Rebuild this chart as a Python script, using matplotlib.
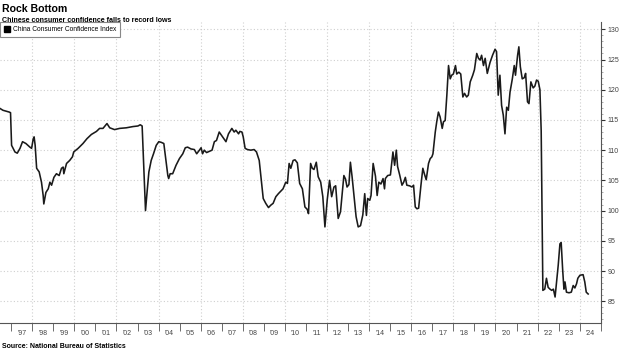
import matplotlib
matplotlib.use("Agg")
import matplotlib.pyplot as plt
from matplotlib.lines import Line2D
import numpy as np

# ---- data (decimal year, index value) ----
years = [
    1996.47, 1996.61, 1996.91, 1996.97, 1997.02, 1997.18, 1997.29, 1997.42, 1997.54, 1997.70,
    1997.89, 1997.97, 1998.05, 1998.09, 1998.14, 1998.21, 1998.33, 1998.44, 1998.52, 1998.55,
    1998.65, 1998.76, 1998.84, 1998.92, 1999.03, 1999.15, 1999.28, 1999.39, 1999.47, 1999.50,
    1999.63, 1999.78, 1999.91, 1999.97, 2000.18, 2000.41, 2000.60, 2000.81, 2001.05, 2001.20,
    2001.36, 2001.55, 2001.68, 2001.91, 2002.15, 2002.47, 2002.78, 2003.02, 2003.13, 2003.22,
    2003.29, 2003.38, 2003.44, 2003.54, 2003.65, 2003.76, 2003.89, 2004.01, 2004.12, 2004.25,
    2004.36, 2004.44, 2004.48, 2004.55, 2004.67, 2004.83, 2004.99, 2005.15, 2005.27, 2005.38,
    2005.54, 2005.70, 2005.81, 2005.94, 2006.02, 2006.09, 2006.17, 2006.28, 2006.41, 2006.54,
    2006.65, 2006.75, 2006.88, 2007.04, 2007.20, 2007.32, 2007.48, 2007.59, 2007.67, 2007.80,
    2007.86, 2007.96, 2008.02, 2008.11, 2008.22, 2008.38, 2008.54, 2008.65, 2008.78, 2008.86,
    2008.97, 2009.09, 2009.22, 2009.33, 2009.44, 2009.57, 2009.69, 2009.80, 2009.91, 2010.04,
    2010.12, 2010.20, 2010.28, 2010.39, 2010.48, 2010.59, 2010.70, 2010.83, 2010.95, 2011.06,
    2011.12, 2011.22, 2011.30, 2011.38, 2011.49, 2011.58, 2011.70, 2011.80, 2011.90, 2012.01,
    2012.12, 2012.22, 2012.33, 2012.41, 2012.53, 2012.64, 2012.80, 2012.88, 2012.95, 2013.04,
    2013.11, 2013.19, 2013.27, 2013.38, 2013.48, 2013.59, 2013.70, 2013.79, 2013.87, 2013.93,
    2014.03, 2014.09, 2014.19, 2014.30, 2014.38, 2014.46, 2014.56, 2014.66, 2014.73, 2014.77,
    2014.88, 2015.01, 2015.13, 2015.21, 2015.29, 2015.35, 2015.45, 2015.56, 2015.64, 2015.72,
    2015.79, 2015.92, 2016.03, 2016.11, 2016.19, 2016.27, 2016.35, 2016.46, 2016.55, 2016.63,
    2016.71, 2016.82, 2016.90, 2016.98, 2017.03, 2017.14, 2017.21, 2017.29, 2017.37, 2017.47,
    2017.53, 2017.61, 2017.69, 2017.77, 2017.85, 2017.92, 2018.00, 2018.10, 2018.16, 2018.26,
    2018.35, 2018.45, 2018.53, 2018.63, 2018.71, 2018.80, 2018.92, 2019.00, 2019.11, 2019.19,
    2019.27, 2019.34, 2019.43, 2019.51, 2019.61, 2019.74, 2019.86, 2019.98, 2020.05, 2020.13,
    2020.21, 2020.29, 2020.37, 2020.45, 2020.53, 2020.61, 2020.69, 2020.80, 2020.89, 2020.95,
    2021.05, 2021.11, 2021.18, 2021.27, 2021.37, 2021.43, 2021.52, 2021.59, 2021.68, 2021.79,
    2021.87, 2021.95, 2022.03, 2022.11, 2022.17, 2022.25, 2022.34, 2022.42, 2022.50, 2022.59,
    2022.67, 2022.75, 2022.83, 2022.90, 2022.98, 2023.06, 2023.12, 2023.19, 2023.25, 2023.30,
    2023.37, 2023.49, 2023.60, 2023.69, 2023.77, 2023.85, 2023.91, 2024.01, 2024.16, 2024.24,
    2024.31, 2024.40,
]
cci = [
    116.9, 116.6, 116.3, 116.2, 110.8, 109.7, 109.5, 110.3, 111.4, 111.1,
    110.5, 110.3, 111.9, 112.2, 110.8, 107.0, 106.4, 104.7, 102.5, 101.1,
    103.0, 103.6, 104.7, 104.2, 105.5, 106.1, 105.8, 107.0, 107.2, 106.1,
    107.8, 108.3, 108.9, 109.7, 110.3, 111.1, 111.9, 112.6, 113.1, 113.6,
    113.6, 114.4, 113.7, 113.4, 113.6, 113.7, 113.9, 114.0, 114.2, 114.0,
    108.0, 100.0, 102.5, 106.4, 108.3, 109.4, 110.8, 111.4, 111.3, 111.1,
    108.0, 105.8, 105.3, 106.1, 106.1, 107.5, 108.6, 109.4, 110.4, 110.5,
    110.2, 110.1, 109.4, 110.0, 110.4, 109.4, 110.0, 109.6, 109.8, 110.0,
    111.4, 111.6, 113.0, 112.2, 111.4, 112.7, 113.6, 113.0, 113.3, 112.7,
    113.1, 113.0, 112.2, 110.3, 110.1, 110.0, 110.1, 109.7, 108.3, 105.6,
    102.0, 101.2, 100.5, 100.9, 101.2, 102.3, 102.8, 103.2, 103.6, 104.7,
    104.5, 107.8, 107.0, 108.3, 108.4, 107.9, 104.5, 103.6, 100.6, 100.2,
    99.5, 107.8, 107.0, 106.8, 108.0, 105.6, 104.7, 102.3, 97.3, 101.8,
    105.0, 102.3, 103.9, 104.1, 98.7, 99.8, 105.8, 105.2, 103.9, 104.3,
    108.0, 105.6, 102.8, 99.0, 97.3, 97.5, 99.3, 102.8, 99.2, 102.0,
    101.7, 102.5, 107.8, 105.7, 102.5, 104.7, 104.4, 105.3, 103.6, 105.3,
    105.8, 105.9, 109.7, 107.5, 110.0, 107.3, 105.9, 104.2, 104.7, 105.5,
    104.2, 104.1, 103.9, 104.2, 100.6, 100.3, 100.4, 104.2, 107.0, 106.0,
    105.1, 107.8, 108.6, 108.9, 109.4, 113.0, 114.7, 116.3, 115.5, 113.6,
    114.7, 114.9, 119.1, 124.0, 121.8, 122.4, 122.6, 124.0, 122.6, 122.9,
    122.6, 118.8, 119.4, 118.8, 119.1, 121.3, 122.4, 123.3, 126.0, 125.2,
    124.9, 125.7, 124.0, 125.2, 122.7, 124.5, 125.7, 126.7, 126.3, 119.1,
    122.4, 117.4, 115.8, 112.7, 117.1, 116.6, 119.6, 121.8, 124.0, 122.4,
    125.7, 127.1, 123.8, 121.8, 122.0, 122.7, 118.0, 117.7, 121.3, 120.3,
    120.6, 121.6, 121.4, 120.0, 113.2, 86.8, 87.0, 88.8, 87.3, 87.0,
    86.8, 87.0, 85.7, 88.2, 91.0, 94.5, 94.7, 90.2, 87.0, 88.2,
    86.5, 86.4, 86.5, 87.6, 87.2, 87.9, 88.8, 89.3, 89.4, 88.2,
    86.5, 86.2,
]
year_labels = ["'97", "'98", "'99", "'00", "'01", "'02", "'03", "'04", "'05", "'06",
               "'07", "'08", "'09", "'10", "'11", "'12", "'13", "'14", "'15", "'16",
               "'17", "'18", "'19", "'20", "'21", "'22", "'23", "'24"]
y_ticks = [85, 90, 95, 100, 105, 110, 115, 120, 125, 130]

plt.rcParams["font.family"] = ["Liberation Sans", "DejaVu Sans"]

fig = plt.figure(figsize=(6.2, 3.52), dpi=100)
ax = fig.add_axes([0.0, 0.0824, 0.969, 0.855])

ax.plot(years, cci, color="#1a1a1a", linewidth=1.15)

ax.set_xlim(1996.47, 2024.95)
ax.set_ylim(81.4, 131.2)

# x axis: ticks at year boundaries, labels in the middle of each year
first_year = 1997
bounds = np.arange(first_year, first_year + len(year_labels) + 1)
ax.set_xticks(bounds)
ax.set_xticklabels([])
ax.set_xticks(bounds[:-1] + 0.5, minor=True)
ax.set_xticklabels(year_labels, minor=True)
ax.tick_params(axis="x", which="major", length=6, width=0.6, color="#555555", direction="out")
ax.tick_params(axis="x", which="minor", length=0, labelsize=5, labelcolor="#444444", pad=5)

# y axis on the right
ax.yaxis.tick_right()
ax.set_yticks(y_ticks)
ax.set_yticks(np.arange(82, 131, 1), minor=True)
ax.tick_params(axis="y", which="major", length=3, width=0.8, color="#333333",
               labelsize=5, labelcolor="#444444", pad=2)
ax.tick_params(axis="y", which="minor", length=1.5, width=0.5, color="#888888")

# grid: horizontal every 5, vertical every 2 years
for v in y_ticks:
    ax.axhline(v, color="#cfcfcf", linewidth=0.8, linestyle=(0, (1, 2)), zorder=0)
for yr in range(1998, 2025, 2):
    ax.axvline(yr, color="#cfcfcf", linewidth=0.8, linestyle=(0, (1, 2)), zorder=0)

for side in ["left", "top"]:
    ax.spines[side].set_visible(False)
ax.spines["right"].set_color("#555555")
ax.spines["right"].set_linewidth(0.8)
ax.spines["bottom"].set_color("#555555")
ax.spines["bottom"].set_linewidth(0.8)

handle = Line2D([], [], marker="s", color="black", linestyle="none", markersize=4)
leg = ax.legend([handle], ["China Consumer Confidence Index"], loc="upper left",
                bbox_to_anchor=(0.0, 1.0), borderaxespad=0, fontsize=4.8,
                fancybox=False, framealpha=1, edgecolor="#888888",
                handletextpad=0.3, handlelength=1.0, borderpad=0.6)
leg.get_frame().set_linewidth(0.8)

fig.text(0.003, 0.988, "Rock Bottom", fontsize=7.6, fontweight="bold", va="top", ha="left")
fig.text(0.003, 0.953, "Chinese consumer confidence falls to record lows", fontsize=5.1,
         fontweight="bold", va="top", ha="left")
fig.text(0.003, 0.005, "Source: National Bureau of Statistics", fontsize=5,
         fontweight="bold", va="bottom", ha="left")

fig.savefig("out.png", dpi=100)
